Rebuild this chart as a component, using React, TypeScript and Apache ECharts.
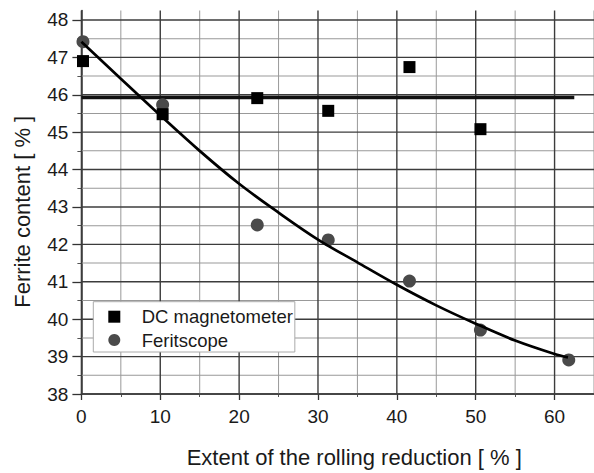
import React, { useEffect, useRef } from 'react';
import * as echarts from 'echarts';

// Measured points (x = rolling reduction %, y = ferrite content %)
const sampleX = [0.2, 10.3, 22.3, 31.3, 41.6, 50.6, 61.8];
const dcY = [46.9, 45.48, 45.91, 45.57, 46.74, 45.08];
const feritY = [47.42, 45.73, 42.52, 42.12, 41.02, 39.71, 38.91];

// Mean line of DC magnetometer
const meanX = [0, 62.5];
const meanY = [45.93, 45.93];

// Fitted curve of Feritscope values
const curveX = [0, 5, 10, 15, 20, 25, 30, 35, 40, 45, 50, 55, 60, 61.7];
const curveY = [47.42, 46.43, 45.45, 44.5, 43.62, 42.85, 42.13, 41.52, 40.92, 40.37, 39.88, 39.43, 39.07, 38.98];

// Ticks
const xMajorTicks = [0, 10, 20, 30, 40, 50, 60];
const xMinorTicks = [5, 15, 25, 35, 45, 55, 65];
const yMajorTicks = [38, 39, 40, 41, 42, 43, 44, 45, 46, 47, 48];
const yMinorTicks = [38.5, 39.5, 40.5, 41.5, 42.5, 43.5, 44.5, 45.5, 46.5, 47.5];

const FONT = "'Liberation Sans', Arial, Helvetica, sans-serif";
const MAJOR_C = '#3c3c3c';
const MINOR_C = '#999999';

const X_MIN = 0;
const X_MAX = 65;
const Y_MIN = 38;
const Y_MAX = 48.25;

// [value, orientation (0 vertical, 1 horizontal), major flag]
function gridData(): number[][] {
  return [
    ...xMinorTicks.map((v) => [v, 0, 0]),
    ...yMinorTicks.map((v) => [v, 1, 0]),
    ...xMajorTicks.map((v) => [v, 0, 1]),
    ...yMajorTicks.map((v) => [v, 1, 1]),
  ];
}

// Grid lines drawn as thin filled rectangles
function renderGridRect(_params: any, api: any) {
  const v = api.value(0);
  const horizontal = api.value(1) === 1;
  const major = api.value(2) === 1;
  const w = major ? 1.4 : 1;
  if (horizontal) {
    const a = api.coord([X_MIN, v]);
    const b = api.coord([X_MAX, v]);
    return {
      type: 'rect',
      shape: { x: a[0], y: a[1] - w / 2, width: b[0] - a[0], height: w },
      style: { fill: major ? MAJOR_C : MINOR_C, stroke: 'none' },
      silent: true,
    };
  }
  const a = api.coord([v, Y_MAX]);
  const b = api.coord([v, Y_MIN]);
  return {
    type: 'rect',
    shape: { x: a[0] - w / 2, y: a[1], width: w, height: b[1] - a[1] },
    style: { fill: major ? MAJOR_C : MINOR_C, stroke: 'none' },
    silent: true,
  };
}

function buildOption(): echarts.EChartsCoreOption {
  return {
    animation: false,
    backgroundColor: '#ffffff',
    textStyle: { fontFamily: FONT },
    grid: { left: 81.4, right: -3, top: 10.6, bottom: 79, containLabel: false },
    legend: {
      orient: 'vertical',
      left: 93.3,
      top: 301.7,
      padding: [5, 2, 2, 15],
      itemWidth: 12,
      itemHeight: 12,
      itemGap: 3.3,
      backgroundColor: '#ffffff',
      borderColor: '#aaaaaa',
      borderWidth: 1,
      z: 20,
      textStyle: { fontSize: 18.5, lineHeight: 20, color: '#1a1a1a', fontFamily: FONT, padding: [0, 0, 0, 16.4] },
      data: [
        { name: 'DC magnetometer', icon: 'rect' },
        { name: 'Feritscope', icon: 'circle' },
      ],
    },
    xAxis: [
      {
        type: 'value',
        position: 'bottom',
        min: X_MIN,
        max: X_MAX,
        name: 'Extent of the rolling reduction [ % ]',
        nameLocation: 'middle',
        nameGap: 52,
        nameTextStyle: { fontSize: 22, color: '#1a1a1a', fontFamily: FONT, padding: [0, 0, 0, 33] },
        axisLine: { show: true, onZero: false, lineStyle: { color: '#333', width: 1.5 } },
        axisTick: { show: true, length: 6, customValues: xMajorTicks, lineStyle: { color: '#333', width: 1.3 } },
        axisLabel: { customValues: xMajorTicks, margin: 13, fontSize: 19, color: '#1a1a1a', fontFamily: FONT },
        splitLine: { show: false },
      },
      {
        type: 'value',
        position: 'bottom',
        min: X_MIN,
        max: X_MAX,
        axisLine: { show: false },
        axisTick: { show: true, length: 3, customValues: xMinorTicks, lineStyle: { color: '#555', width: 1 } },
        axisLabel: { show: false },
        splitLine: { show: false },
      },
    ],
    yAxis: [
      {
        type: 'value',
        position: 'left',
        min: Y_MIN,
        max: Y_MAX,
        name: 'Ferrite content [ % ]',
        nameLocation: 'middle',
        nameGap: 48,
        nameTextStyle: { fontSize: 22, color: '#1a1a1a', fontFamily: FONT, padding: [0, 19, 0, 0] },
        axisLine: { show: true, onZero: false, lineStyle: { color: '#333', width: 1.5 } },
        axisTick: { show: true, length: 9, customValues: yMajorTicks, lineStyle: { color: '#333', width: 1.3 } },
        axisLabel: { customValues: yMajorTicks, margin: 13, fontSize: 19, color: '#1a1a1a', fontFamily: FONT },
        splitLine: { show: false },
      },
      {
        type: 'value',
        position: 'left',
        min: Y_MIN,
        max: Y_MAX,
        axisLine: { show: false },
        axisTick: { show: true, length: 4, customValues: yMinorTicks, lineStyle: { color: '#555', width: 1 } },
        axisLabel: { show: false },
        splitLine: { show: false },
      },
    ],
    series: [
      {
        name: 'Grid lines',
        type: 'custom',
        coordinateSystem: 'cartesian2d',
        xAxisIndex: 0,
        yAxisIndex: 0,
        renderItem: renderGridRect,
        encode: { x: 0 },
        data: gridData(),
        silent: true,
        clip: false,
        z: 1,
      },
      {
        name: 'DC mean',
        type: 'line',
        xAxisIndex: 0,
        yAxisIndex: 0,
        data: meanX.map((x, i) => [x, meanY[i]]),
        symbol: 'none',
        silent: true,
        lineStyle: { color: '#111', width: 3.5 },
        z: 6,
      },
      {
        name: 'Feritscope fit',
        type: 'line',
        xAxisIndex: 0,
        yAxisIndex: 0,
        data: curveX.map((x, i) => [x, curveY[i]]),
        symbol: 'none',
        smooth: 0.35,
        silent: true,
        lineStyle: { color: '#000', width: 2.7 },
        z: 8,
      },
      {
        name: 'DC magnetometer',
        type: 'scatter',
        xAxisIndex: 0,
        yAxisIndex: 0,
        symbol: 'rect',
        symbolSize: 12,
        data: dcY.map((y, i) => [sampleX[i], y]),
        itemStyle: { color: '#000000', opacity: 1 },
        z: 9,
      },
      {
        name: 'Feritscope',
        type: 'scatter',
        xAxisIndex: 0,
        yAxisIndex: 0,
        symbol: 'circle',
        symbolSize: 13,
        data: feritY.map((y, i) => [sampleX[i], y]),
        itemStyle: { color: '#4a4a4a', opacity: 1 },
        z: 7,
      },
    ],
  };
}

export default function App() {
  const ref = useRef<HTMLDivElement>(null);
  useEffect(() => {
    if (!ref.current) return;
    const chart = echarts.init(ref.current, null, { renderer: 'svg' });
    chart.setOption(buildOption());
    return () => {
      chart.dispose();
    };
  }, []);
  return (
    <div
      ref={ref}
      style={{ position: 'fixed', left: 0, top: 0, width: 594, height: 473, background: '#fff' }}
    />
  );
}
